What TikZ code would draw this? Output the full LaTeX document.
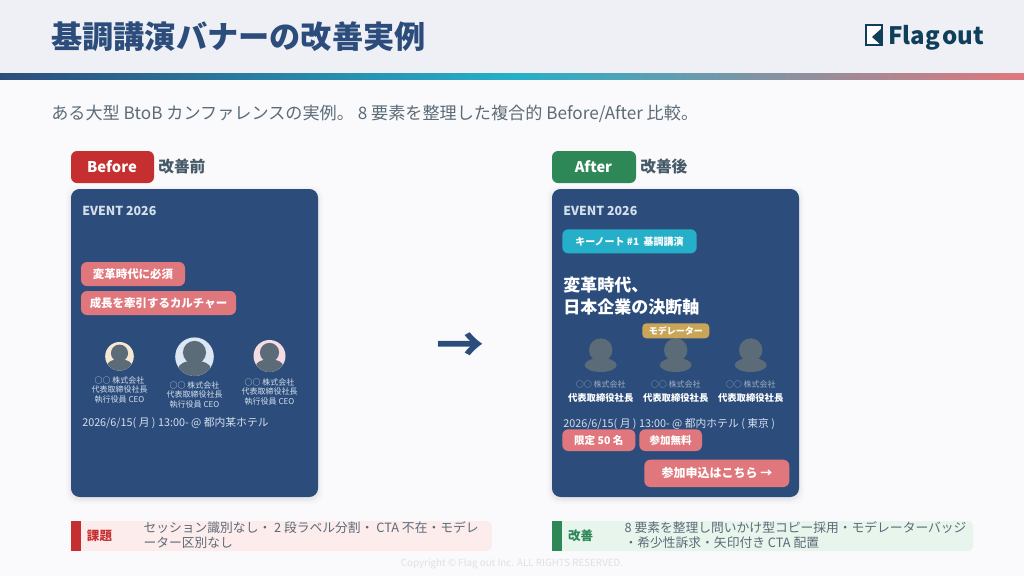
\documentclass[tikz,border=0pt]{standalone}
\usepackage{fontspec}
\setmainfont{Noto Sans CJK JP}
\usepackage{xcolor}
\usetikzlibrary{calc}

\definecolor{pagebg}{HTML}{FAFAFC}
\definecolor{headbg}{HTML}{EEF0F5}
\definecolor{navy}{HTML}{2C4D7C}
\definecolor{teal}{HTML}{26AFC8}
\definecolor{coral}{HTML}{E0777D}
\definecolor{redbad}{HTML}{C62F2F}
\definecolor{greengood}{HTML}{2E8757}
\definecolor{gold}{HTML}{C9A557}
\definecolor{slate}{HTML}{5B6B78}
\definecolor{darkslate}{HTML}{465A68}
\definecolor{logoink}{HTML}{0F3F5A}
\definecolor{paletext}{HTML}{D5DFEC}
\definecolor{mutedtext}{HTML}{9FB0C2}
\definecolor{redtint}{HTML}{FDECEC}
\definecolor{greentint}{HTML}{E8F5EC}
\definecolor{creamface}{HTML}{F5E8D3}
\definecolor{blueface}{HTML}{DCE7F3}
\definecolor{pinkface}{HTML}{F5DCE3}

\tikzset{
  label/.style={inner sep=0pt, anchor=base west},
  labelc/.style={inner sep=0pt, anchor=base},
  pill/.style={fill=coral, rounded corners=4.5pt},
  cardbox/.style={fill=navy, rounded corners=6.5pt},
  head/.style={fill=slate},
  small/.style={labelc, font=\fontsize{6}{7}\selectfont, text=paletext}
}

% face in a ring: x, y, radius, node prefix, colour, y of first text line
\newcommand{\avatar}[6]{%
  \fill[#5] (#1,#2) circle (#3);
  \begin{scope}
    \clip (#1,#2) circle (#3);
    \fill[slate] (#1,#2-#3*0.22) circle (#3*0.6);
    \fill[slate] (#1,#2+#3*0.62) ellipse (#3*0.85 and #3*0.42);
  \end{scope}
  \node[small] (#4a) at (#1,#6) {○○ 株式会社};
  \node[small] (#4b) at (#1,#6+9.5) {代表取締役社長};
  \node[small] (#4c) at (#1,#6+19) {執行役員 CEO};
}
\newcommand{\person}[2]{%
  \fill[head] (#1,350) circle (11.7);
  \fill[head] (#1,365) ellipse (16 and 7);
  \node[labelc, font=\fontsize{6}{7}\selectfont, text=mutedtext] (#2a) at (#1,387.5) {○○ 株式会社};
  \node[labelc, font=\fontsize{7}{8}\selectfont\bfseries, text=white] (#2b) at (#1,401.5) {代表取締役社長};
}

\begin{document}
\begin{tikzpicture}[x=0.75pt, y=-0.75pt]
\useasboundingbox (0,0) rectangle (1024,576);
\fill[pagebg] (0,0) rectangle (1024,576);

% Header
\fill[headbg] (0,0) rectangle (1024,73);
\shade[left color=navy, right color=teal] (0,73) rectangle (512,79);
\shade[left color=teal, right color=coral] (512,73) rectangle (1024,79);
\node[label, font=\fontsize{23.4}{28}\selectfont\bfseries, text=navy] (title) at (51,48.5) {基調講演バナーの改善実例};

% Logo
\draw[logoink, fill=white, line width=0.9pt] (866,25) rectangle (882,45);
\fill[logoink] (882,28) -- (872,37) -- (882,46) -- cycle;
\node[label, font=\fontsize{18}{22}\selectfont\bfseries, text=logoink] (logo) at (888,44) {Flag\hspace{-2.4pt} out};

% Lead text
\node[label, font=\fontsize{12.85}{15}\selectfont, text=slate] (lead) at (51,119) {ある大型 BtoB カンファレンスの実例。 8 要素を整理した複合的 Before/After 比較。};

% Before side
\fill[redbad, rounded corners=4.5pt] (71,151) rectangle (154,183);
\node[labelc, font=\fontsize{11.1}{14}\selectfont\bfseries, text=white] (before) at (112,172.7) {Before};
\node[label, font=\fontsize{11.8}{14}\selectfont\bfseries, text=darkslate] (beforejp) at (158,172.7) {改善前};

\foreach \i/\o in {5/0.015,3/0.02,1.5/0.03}
  \fill[black, opacity=\o, rounded corners=8pt] (71-\i,189-\i+2) rectangle (318+\i,497+\i+2);
\fill[cardbox] (71,189) rectangle (318,497);
\node[label, font=\fontsize{9.3}{12}\selectfont\bfseries, text=paletext] (eventa) at (82,215.7) {EVENT 2026};

\fill[pill] (81,262) rectangle (185,286);
\node[labelc, font=\fontsize{8.6}{10}\selectfont\bfseries, text=white] (must) at (133,278) {変革時代に必須};
\fill[pill] (81,291) rectangle (236,315);
\node[labelc, font=\fontsize{8.6}{10}\selectfont\bfseries, text=white] (culture) at (158.5,307) {成長を牽引するカルチャー};

\avatar{119.5}{356.3}{14.3}{pa}{creamface}{383.3}
\avatar{194.5}{356.7}{19.3}{pb}{blueface}{388.3}
\avatar{269.5}{356}{16}{pc}{pinkface}{385.3}

\node[label, font=\fontsize{8.1}{10}\selectfont, text=paletext] (datea) at (82,426.7) {2026/6/15( 月 ) 13:00- @ 都内某ホテル};

% Arrow
\node[inner sep=0pt, font=\fontsize{36}{40}\selectfont\bfseries, text=navy] (arrow) at (460.5,348) {→};

% After side
\fill[greengood, rounded corners=4.5pt] (552,151) rectangle (636,183);
\node[labelc, font=\fontsize{11}{14}\selectfont\bfseries, text=white] (after) at (593.5,172.7) {After};
\node[label, font=\fontsize{11.8}{14}\selectfont\bfseries, text=darkslate] (afterjp) at (640,172.7) {改善後};

\foreach \i/\o in {5/0.015,3/0.02,1.5/0.03}
  \fill[black, opacity=\o, rounded corners=8pt] (552-\i,189-\i+2) rectangle (799+\i,497+\i+2);
\fill[cardbox] (552,189) rectangle (799,497);
\node[label, font=\fontsize{9.3}{12}\selectfont\bfseries, text=paletext] (eventb) at (563,215.7) {EVENT 2026};

\fill[teal, rounded corners=4.5pt] (562.3,229.3) rectangle (696.7,253.3);
\node[labelc, font=\fontsize{7.5}{9}\selectfont\bfseries, text=white] (keynote) at (629.5,245) {キーノート \#1 \ 基調講演};

\node[label, font=\fontsize{12.75}{15}\selectfont\bfseries, text=white] (heada) at (563,291.3) {変革時代、};
\node[label, font=\fontsize{12.75}{15}\selectfont\bfseries, text=white] (headb) at (563,313) {日本企業の決断軸};

\person{600.7}{qa}
\person{675.7}{qb}
\person{750.7}{qc}
\fill[gold, rounded corners=3pt] (642.3,323.3) rectangle (709.3,338.3);
\node[labelc, font=\fontsize{6.75}{8}\selectfont\bfseries, text=white] (moderator) at (675.8,334.3) {モデレーター};

\node[label, font=\fontsize{8.1}{10}\selectfont, text=paletext] (dateb) at (563,427.2) {2026/6/15( 月 ) 13:00- @ 都内ホテル ( 東京 )};

\fill[pill] (562.3,429.3) rectangle (635.3,451);
\node[labelc, font=\fontsize{7.9}{9}\selectfont\bfseries, text=white] (limit) at (598.8,444) {限定 50 名};
\fill[pill] (639.3,429.3) rectangle (702,451);
\node[labelc, font=\fontsize{7.9}{9}\selectfont\bfseries, text=white] (free) at (670.6,444) {参加無料};
\fill[pill] (644.3,459.7) rectangle (789.3,487);
\node[labelc, font=\fontsize{9}{11}\selectfont\bfseries, text=white] (cta) at (717,477.7) {参加申込はこちら →};

% Issue strip
\fill[redtint, rounded corners=4.5pt] (71,521) rectangle (492,551);
\fill[redbad] (71,521) rectangle (81,551);
\node[labelc, font=\fontsize{9.4}{11}\selectfont\bfseries, text=redbad] (issue) at (99.5,540) {課題};
\node[label, font=\fontsize{9.58}{11}\selectfont, text=slate] (issuea) at (143.3,532) {セッション識別なし・ 2 段ラベル分割・ CTA 不在・モデレ};
\node[label, font=\fontsize{9.58}{11}\selectfont, text=slate] (issueb) at (143.3,547) {ーター区別なし};

% Fix strip
\fill[greentint, rounded corners=4.5pt] (552,521) rectangle (973,551);
\fill[greengood] (552,521) rectangle (562,551);
\node[labelc, font=\fontsize{9.4}{11}\selectfont\bfseries, text=greengood] (fix) at (580.6,540) {改善};
\node[label, font=\fontsize{9.58}{11}\selectfont, text=slate] (fixa) at (624.3,532) {8 要素を整理し問いかけ型コピー採用・モデレーターバッジ};
\node[label, font=\fontsize{9.58}{11}\selectfont, text=slate] (fixb) at (624.3,547) {・希少性訴求・矢印付き CTA 配置};

% Footer
\node[labelc, font=\fontsize{7.35}{9}\selectfont, text=black!12] (copy) at (512,566) {Copyright © Flag out Inc. ALL RIGHTS RESERVED.};
\end{tikzpicture}
\end{document}
